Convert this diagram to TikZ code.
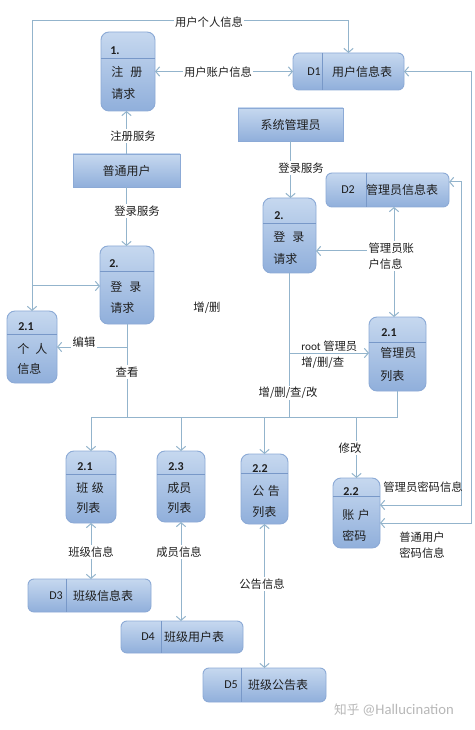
\documentclass[tikz,border=0pt]{standalone}
\usepackage{fontspec}
\setmainfont{Noto Sans CJK SC}
\newfontfamily\lat{Carlito}
\usetikzlibrary{arrows.meta}
\definecolor{lnc}{HTML}{93B4CC}
\definecolor{bdc}{HTML}{8CAAD6}
\definecolor{dvc}{HTML}{7898C8}
\definecolor{topc}{HTML}{C6D8EF}
\definecolor{botc}{HTML}{90AFDB}
\definecolor{txc}{HTML}{1E1E1E}
\newcommand\pbox[5]{\node[pnode, minimum width={(#4-#2)*0.75pt}, minimum height={(#5-#3)*0.75pt}] (#1) at ({(#2+#4)/2},{(#3+#5)/2}) {};}
\newcommand\dbox[5]{\node[dnode, minimum width={(#4-#2)*0.75pt}, minimum height={(#5-#3)*0.75pt}] (#1) at ({(#2+#4)/2},{(#3+#5)/2}) {};}
\newcommand\rbox[5]{\node[rnode, minimum width={(#4-#2)*0.75pt}, minimum height={(#5-#3)*0.75pt}] (#1) at ({(#2+#4)/2},{(#3+#5)/2}) {};}
\begin{document}
\begin{tikzpicture}[x=0.75pt,y=-0.75pt,
  base/.style={draw=bdc, line width=0.7pt, top color=topc, bottom color=botc, inner sep=0pt, outer sep=0pt},
  pnode/.style={base, rounded corners=6pt},
  dnode/.style={base, rounded corners=4.5pt},
  rnode/.style={base},
  divl/.style={draw=dvc, line width=0.6pt},
  ln/.style={draw=lnc, line width=0.75pt},
  arr/.style={ln, -{Straight Barb[length=3pt,width=7pt]}},
  arrb/.style={ln, {Straight Barb[length=3pt,width=7pt]}-{Straight Barb[length=3pt,width=7pt]}},
  ntx/.style={text=txc, font=\fontsize{9}{11}\selectfont, inner sep=0pt, anchor=west},
  num/.style={text=txc, font=\lat\bfseries\fontsize{9}{11}\selectfont, inner sep=0pt, anchor=west},
  dtx/.style={text=txc, font=\lat\fontsize{9}{11}\selectfont, inner sep=0pt},
  ctx/.style={text=txc, font=\fontsize{9}{11}\selectfont, inner sep=0pt},
  lbl/.style={text=txc, font=\fontsize{8.5}{10}\selectfont, fill=white, inner sep=1pt},
  lblc/.style={text=txc, font=\fontsize{8.5}{12}\selectfont, inner sep=0pt}
]
\fill[white] (0,0) rectangle (474,730);
\useasboundingbox (0,0) rectangle (474,730);

% ---------- processes ----------
\pbox{reg}{101}{32}{155}{111}
\draw[divl] (reg.west |- 0,58) -- (reg.east |- 0,58);
\node[num] (regn) at (110,51) {1.};
\node[ntx] (regt1) at (111,72) {注\hspace{0.6em}册};
\node[ntx] (regt2) at (111,94) {请求};

\pbox{loga}{100}{246}{154}{324}
\draw[divl] (loga.west |- 0,271) -- (loga.east |- 0,271);
\node[num] (logan) at (109,264) {2.};
\node[ntx] (logat1) at (110,287) {登\hspace{0.6em}录};
\node[ntx] (logat2) at (110,308) {请求};

\pbox{pinfo}{7}{311}{57}{383}
\draw[divl] (pinfo.west |- 0,334) -- (pinfo.east |- 0,334);
\node[num] (pinfon) at (18,327) {2.1};
\node[ntx] (pinfot1) at (17,349) {个\hspace{0.5em}人};
\node[ntx] (pinfot2) at (17,369) {信息};

\pbox{logb}{263}{198}{316}{273}
\draw[divl] (logb.west |- 0,223) -- (logb.east |- 0,223);
\node[num] (logbn) at (274,216) {2.};
\node[ntx] (logbt1) at (273,237) {登\hspace{0.6em}录};
\node[ntx] (logbt2) at (273,259) {请求};

\pbox{mgr}{369}{317}{426}{391}
\draw[divl] (mgr.west |- 0,342) -- (mgr.east |- 0,342);
\node[num] (mgrn) at (381,333) {2.1};
\node[ntx] (mgrt1) at (380,353) {管理员};
\node[ntx] (mgrt2) at (380,376) {列表};

\pbox{cls}{66}{451}{116}{523}
\draw[divl] (cls.west |- 0,474) -- (cls.east |- 0,474);
\node[num] (clsn) at (77,467) {2.1};
\node[ntx] (clst1) at (76,488) {班\hspace{0.3em}级};
\node[ntx] (clst2) at (76,508) {列表};

\pbox{mem}{157}{451}{205}{522}
\draw[divl] (mem.west |- 0,474) -- (mem.east |- 0,474);
\node[num] (memn) at (168,467) {2.3};
\node[ntx] (memt1) at (167,488) {成员};
\node[ntx] (memt2) at (167,508) {列表};

\pbox{ntc}{241}{454}{288}{524}
\draw[divl] (ntc.west |- 0,473) -- (ntc.east |- 0,473);
\node[num] (ntcn) at (252,469) {2.2};
\node[ntx] (ntct1) at (252,491) {公\hspace{0.3em}告};
\node[ntx] (ntct2) at (252,512) {列表};

\pbox{acct}{333}{478}{380}{548}
\draw[divl] (acct.west |- 0,496) -- (acct.east |- 0,496);
\node[num] (acctn) at (343,492) {2.2};
\node[ntx] (acctt1) at (342,515) {账\hspace{0.3em}户};
\node[ntx] (acctt2) at (342,536) {密码};

% ---------- data stores ----------
\dbox{da}{293}{53}{404}{90}
\draw[divl] (322,53) -- (322,90);
\node[dtx] (dan) at (314,72) {D1};
\node[ctx] (dat) at (362,72) {用户信息表};

\dbox{db}{326}{173}{449}{207}
\draw[divl] (366,173) -- (366,207);
\node[dtx] (dbn) at (348,190) {D2};
\node[ctx] (dbt) at (402,190) {管理员信息表};

\dbox{dc}{28}{579}{151}{612}
\draw[divl] (66,579) -- (66,612);
\node[dtx] (dcn) at (56,596) {D3};
\node[ctx] (dct) at (103,596) {班级信息表};

\dbox{dd}{121}{621}{243}{653}
\draw[divl] (161,621) -- (161,653);
\node[dtx] (ddn) at (148,637) {D4};
\node[ctx] (ddt) at (194,637) {班级用户表};

\dbox{de}{203}{668}{326}{702}
\draw[divl] (241,668) -- (241,702);
\node[dtx] (den) at (231,685) {D5};
\node[ctx] (det) at (278,685) {班级公告表};

% ---------- external entities ----------
\rbox{user}{73}{154}{180}{187}
\node[ctx] (usert) at (126.5,171) {普通用户};
\rbox{sys}{238}{108}{343}{141}
\node[ctx] (syst) at (290.5,125) {系统管理员};

% ---------- connectors ----------
\coordinate (jl) at (32,286);
\coordinate (ctl) at (32,21);
\draw[arr] (jl) -- (ctl) -| (da.north);
\draw[arr] (jl) -- (pinfo.north);
\draw[arr] (jl) -- (loga.west |- jl);
\node[lbl] (l1) at (209,22) {用户个人信息};

\draw[arrb] (reg.east) -- (da.west);
\node[lbl] (l2) at (218,72) {用户账户信息};

\coordinate (r1) at (471,523);
\draw[arrb] (da.east) -| (r1) -- (acct.east |- r1);
\coordinate (r2) at (461,505);
\draw[arrb] (db.east |- 0,182) -| (r2) -- (acct.east |- r2);
\node[lblc] (l3) at (423,487) {管理员密码信息};
\node[lblc, align=center] (l4) at (422,545) {普通用户\\密码信息};

\draw[arr] (sys.south) -- (sys.south |- logb.north);
\node[lbl] (l5) at (301,168) {登录服务};

\draw[arr] (user.north) -- (user.north |- reg.south);
\node[lbl] (l6) at (133,136) {注册服务};
\draw[arr] (user.south) -- (user.south |- loga.north);
\node[lbl] (l7) at (137,211) {登录服务};

\coordinate (xd) at (394,251);
\draw[arrb] (db.south -| xd) -- (mgr.north -| xd);
\draw[arr] (xd) -- (logb.east |- xd);
\node[lblc, align=left, anchor=west, fill=white, inner sep=1pt] (l8) at (367,256) {管理员账\\户信息};

\coordinate (ja) at (127,347);
\draw[arr] (loga.south) -- (ja) -- (pinfo.east |- ja);
\coordinate (bus) at (127,417);
\draw[ln] (ja) -- (bus);
\node[lbl] (l9) at (84,342) {编辑};
\node[lbl] (l10) at (127,372) {查看};
\node[lblc] (l11) at (207,308) {增/删};

\draw[arr] (mgr.south) |- (cls.north |- bus) -- (cls.north);
\draw[arr] (mem.north |- bus) -- (mem.north);
\draw[arr] (ntc.north |- bus) -- (ntc.north);
\draw[arr] (acct.north |- bus) -- (acct.north);
\draw[ln] (logb.south) -- (logb.south |- bus);
\coordinate (jb) at (289.5,353);
\draw[arr] (jb) -- (mgr.west |- jb);
\node[lblc, anchor=west] (l12) at (301,346) {{\lat root} 管理员};
\node[lblc, anchor=west] (l13) at (301,363) {增/删/查};
\node[lbl] (l14) at (288,393) {增/删/查/改};
\node[lbl] (l15) at (350,448) {修改};

\draw[arrb] (cls.south) -- (cls.south |- dc.north);
\node[lbl] (l16) at (91,552) {班级信息};
\draw[arrb] (mem.south) -- (mem.south |- dd.north);
\node[lbl] (l17) at (179,552) {成员信息};
\draw[arrb] (ntc.south) -- (ntc.south |- de.north);
\node[lbl] (l18) at (262,584) {公告信息};

\node[text=black!28, font=\fontsize{9.5}{11}\selectfont, inner sep=0pt] (wm) at (394,710) {知乎 {\lat\fontsize{11}{12}\selectfont @Hallucination}};
\end{tikzpicture}
\end{document}
